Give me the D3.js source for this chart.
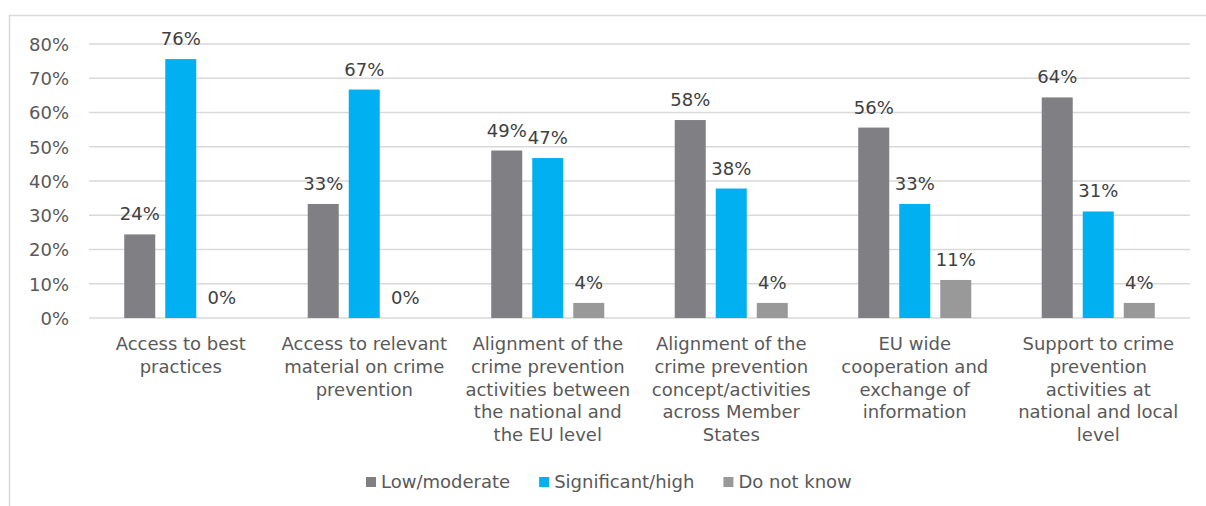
<!DOCTYPE html>
<html>
<head>
<meta charset="utf-8">
<script src="https://cdnjs.cloudflare.com/ajax/libs/d3/7.8.5/d3.min.js"></script>
<style>
  body { margin: 0; background: #fff; }
  svg text { font-family: Verdana, "DejaVu Sans", sans-serif; }
</style>
</head>
<body>
<svg id="chart"></svg>
<script>
// categories, one array of lines per group (as wrapped in the original)
var categories = [
    ["Access to best", "practices"],
    ["Access to relevant", "material on crime", "prevention"],
    ["Alignment of the", "crime prevention", "activities between", "the national and", "the EU level"],
    ["Alignment of the", "crime prevention", "concept/activities", "across Member", "States"],
    ["EU wide", "cooperation and", "exchange of", "information"],
    ["Support to crime", "prevention", "activities at", "national and local", "level"]
];
var seriesNames = ["Low/moderate", "Significant/high", "Do not know"];
var lowModerate = [24.4, 33.3, 48.9, 57.8, 55.6, 64.4];
var significantHigh = [75.6, 66.7, 46.7, 37.8, 33.3, 31.1];
var doNotKnow = [0, 0, 4.4, 4.4, 11.1, 4.4];
var yTicks = [0, 10, 20, 30, 40, 50, 60, 70, 80];

var colors = ["#7f7f84", "#00b0f0", "#999999"];
var series = [lowModerate, significantHigh, doNotKnow];

var width = 1206, height = 506;
var margin = { top: 44, left: 89, right: 16, bottom: 188 };

var svg = d3.select("#chart")
    .attr("width", width)
    .attr("height", height);

// outer frame (only left + top visible in the original)
svg.append("rect")
    .attr("x", 9.5).attr("y", 15.5)
    .attr("width", width).attr("height", height)
    .attr("fill", "none")
    .attr("stroke", "#d9d9d9")
    .attr("stroke-width", 1.5);

var y = d3.scaleLinear().domain([0, 80]).range([318, 44]);

var x0 = d3.scaleBand()
    .domain(d3.range(categories.length))
    .range([89, 1190])
    .paddingInner(0.384)
    .paddingOuter(0.192);

var x1 = d3.scaleBand()
    .domain(d3.range(series.length))
    .range([0, x0.bandwidth()])
    .paddingInner(0.244);

// gridlines
svg.append("g").selectAll("line")
    .data(yTicks)
    .enter().append("line")
    .attr("x1", 89).attr("x2", 1190)
    .attr("y1", function(d) { return y(d); })
    .attr("y2", function(d) { return y(d); })
    .attr("stroke", "#d9d9d9")
    .attr("stroke-width", 1.5);

// y axis labels
var yAxis = d3.axisLeft(y)
    .tickValues(yTicks)
    .tickSize(0)
    .tickPadding(0)
    .tickFormat(function(d) { return d + "%"; });

var yg = svg.append("g")
    .attr("transform", "translate(69,0)")
    .call(yAxis);
yg.select(".domain").remove();
yg.selectAll("text")
    .attr("fill", "#595959")
    .style("font-size", "18px")
    .attr("dy", "0.36em");

// bars
var groups = svg.append("g").selectAll("g")
    .data(categories)
    .enter().append("g")
    .attr("transform", function(d, i) { return "translate(" + x0(i) + ",0)"; });

groups.selectAll("rect")
    .data(function(d, i) { return series.map(function(s, k) { return { k: k, v: s[i] }; }); })
    .enter().append("rect")
    .attr("x", function(d) { return x1(d.k); })
    .attr("width", x1.bandwidth())
    .attr("y", function(d) { return y(d.v); })
    .attr("height", function(d) { return y(0) - y(d.v); })
    .attr("fill", function(d) { return colors[d.k]; });

groups.selectAll("text.val")
    .data(function(d, i) { return series.map(function(s, k) { return { k: k, v: s[i] }; }); })
    .enter().append("text")
    .attr("class", "val")
    .attr("x", function(d) { return x1(d.k) + x1.bandwidth() / 2; })
    .attr("y", function(d) { return y(d.v) - 14; })
    .attr("text-anchor", "middle")
    .attr("fill", "#404040")
    .style("font-size", "18px")
    .text(function(d) { return Math.round(d.v) + "%"; });

// category labels
groups.append("text")
    .attr("text-anchor", "middle")
    .attr("fill", "#595959")
    .style("font-size", "18px")
    .selectAll("tspan")
    .data(function(d) { return d; })
    .enter().append("tspan")
    .attr("x", x0.bandwidth() / 2)
    .attr("y", function(d, j) { return 350 + j * 22.8; })
    .text(function(d) { return d; });

// legend
var legend = svg.append("g").attr("transform", "translate(366,482)");
var lx = 0;
seriesNames.forEach(function(name, k) {
    var item = legend.append("g").attr("transform", "translate(" + lx + ",0)");
    item.append("rect")
        .attr("x", 0).attr("y", -5)
        .attr("width", 10).attr("height", 10)
        .attr("fill", colors[k]);
    var t = item.append("text")
        .attr("x", 15)
        .attr("dy", "0.36em")
        .attr("fill", "#595959")
        .style("font-size", "18px")
        .text(name);
    lx += 15 + t.node().getComputedTextLength() + 29;
});
</script>
</body>
</html>
